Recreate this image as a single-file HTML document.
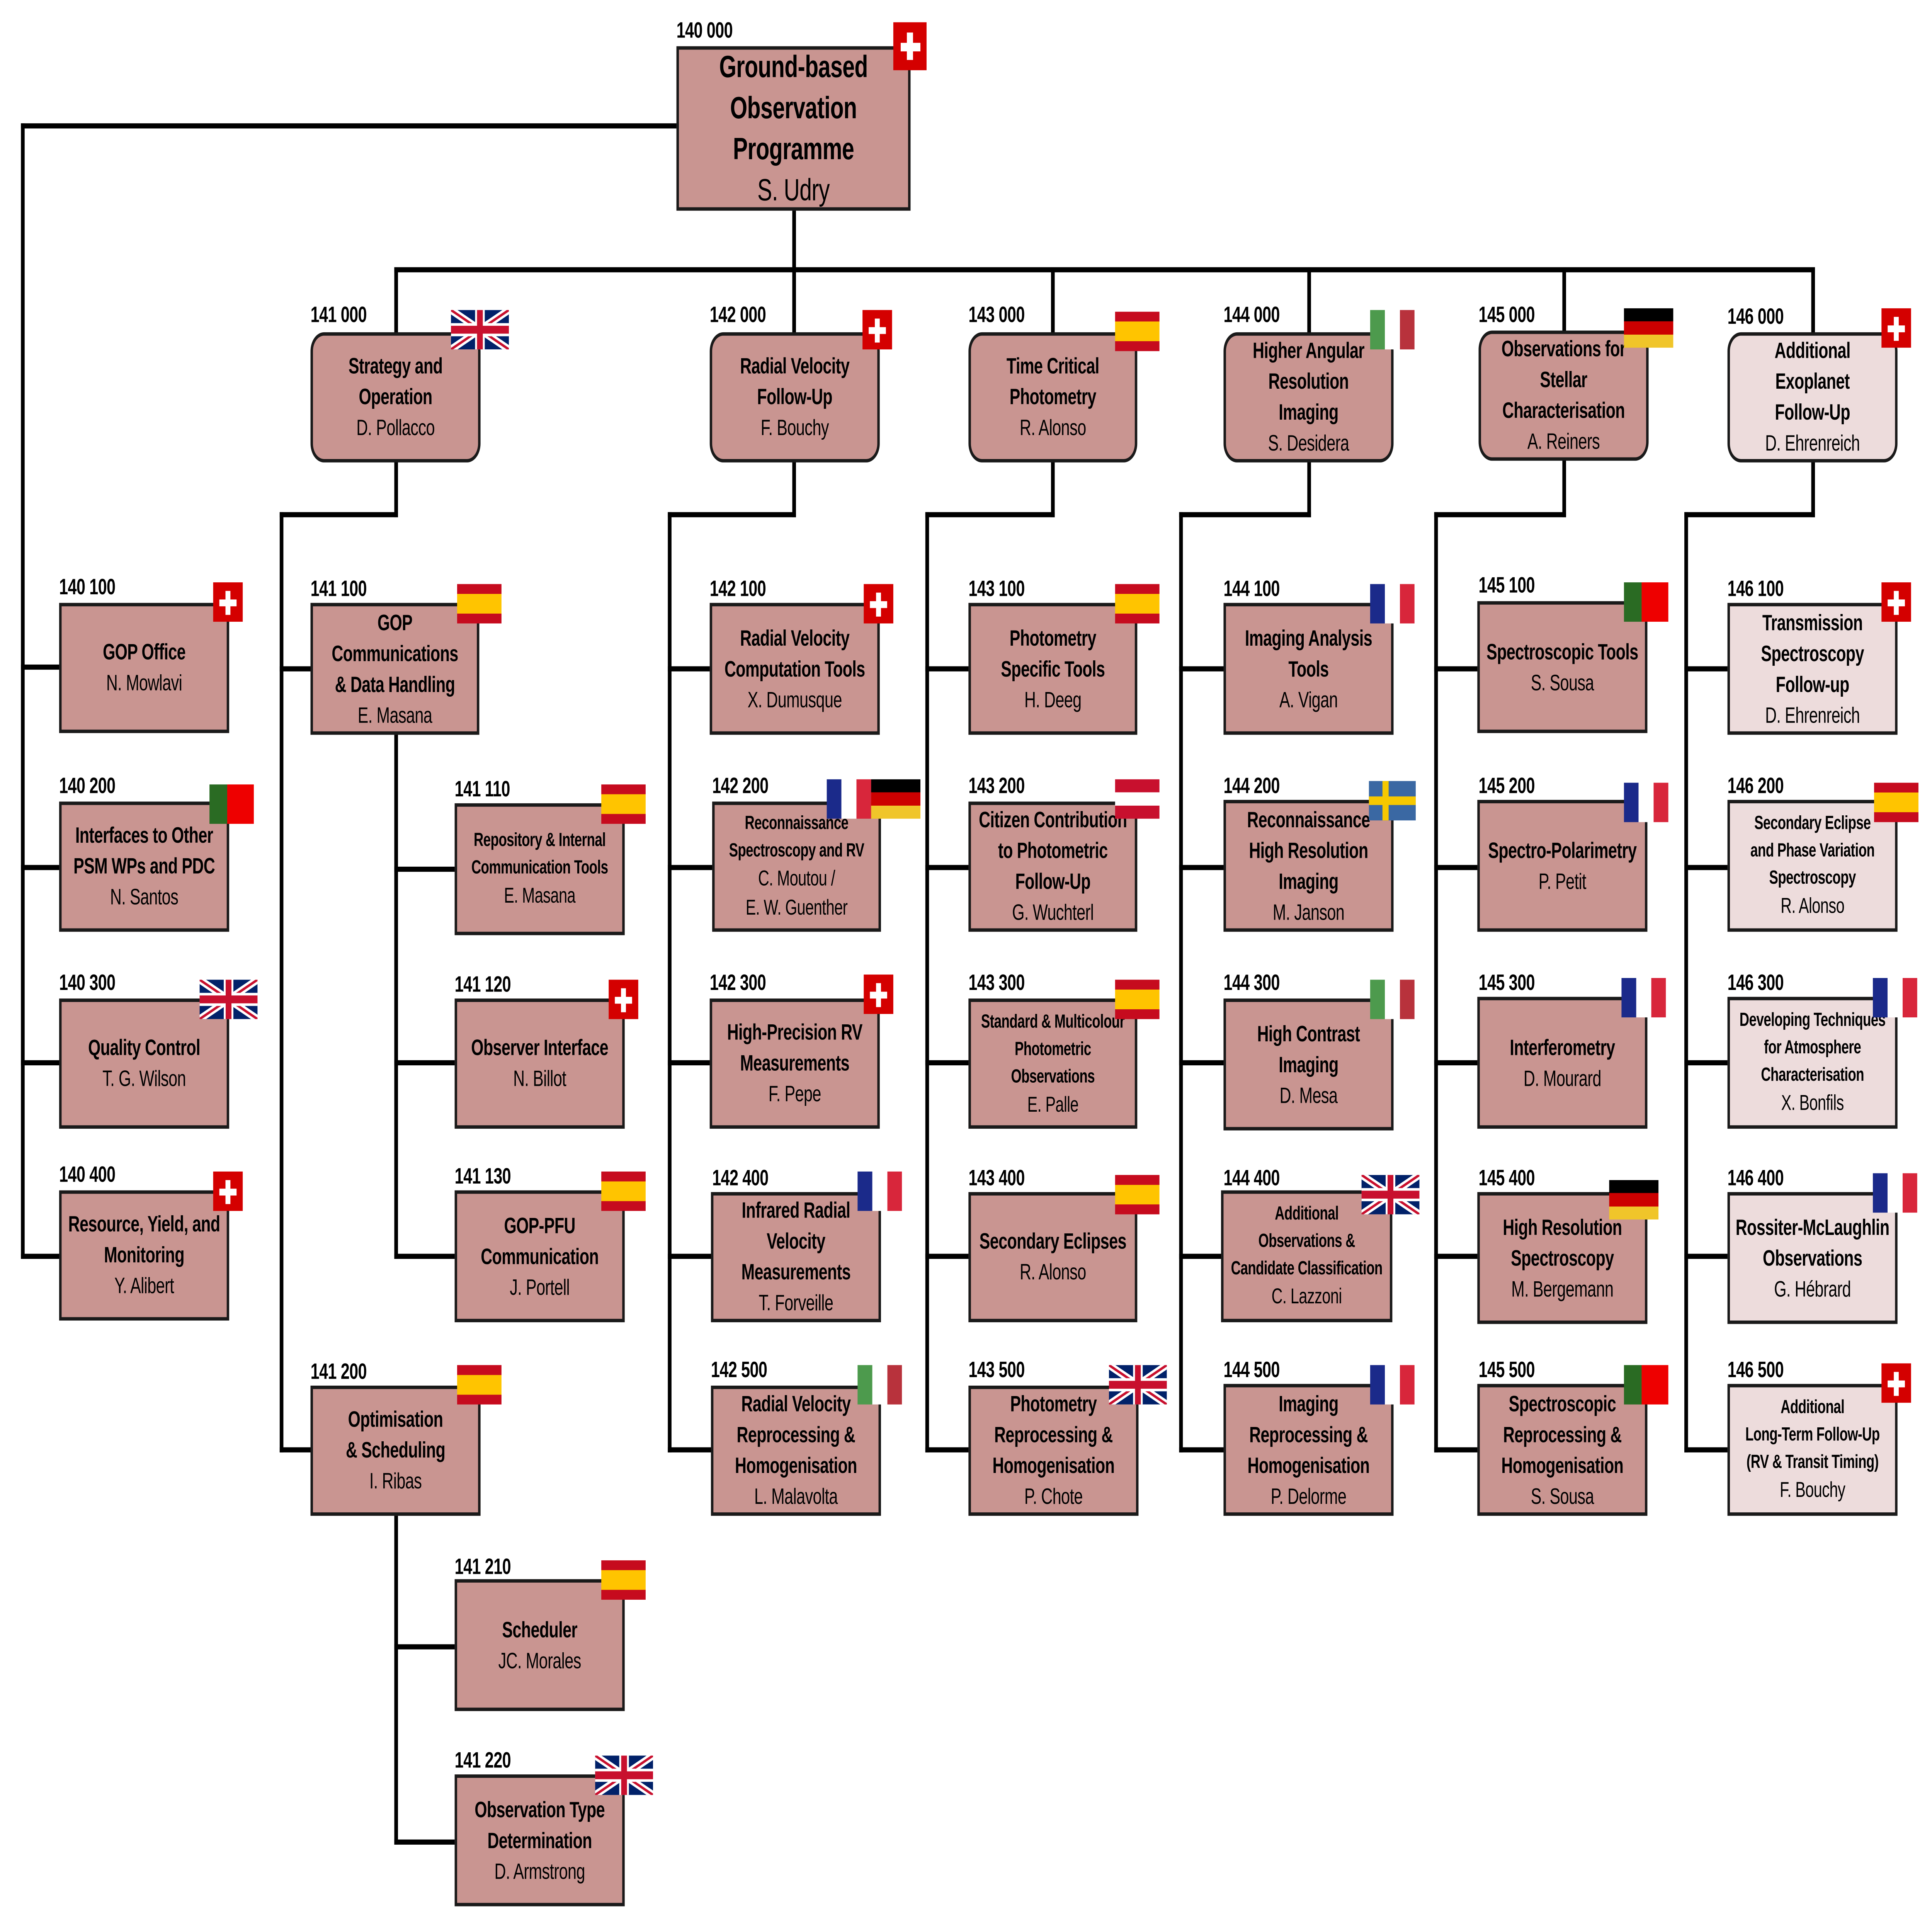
<!DOCTYPE html>
<html><head><meta charset="utf-8">
<style>
html,body{margin:0;padding:0;background:#fff;width:100%;height:100%;overflow:hidden;}
#svg{position:fixed;left:0;top:0;width:100vw;height:100vh;display:block;}
#w{position:relative;width:1568px;height:1128px;font-family:"Liberation Sans Narrow","Liberation Sans",sans-serif;color:#000;letter-spacing:-0.2px;}
.b{position:absolute;box-sizing:border-box;border:2px solid #1a1a1a;background:#c99591;display:flex;align-items:center;justify-content:center;text-align:center;font-size:13px;line-height:18px;}
.r{border-radius:11px;}
.lt{background:#eddcdc;}
.b b{font-weight:bold;}
.s{font-size:11px;line-height:16px;}
.s span{font-size:12.5px;}
.n{position:absolute;font-weight:bold;font-size:13px;line-height:14px;}
.h{position:absolute;height:3px;background:#000;}
.v{position:absolute;width:3px;background:#000;}
.f{position:absolute;width:36px;height:23px;}
.ch{width:24px;height:23px;background:linear-gradient(#fff,#fff) center/14px 4px no-repeat,linear-gradient(#fff,#fff) center/4px 14px no-repeat,#d40000;}
.es{background:linear-gradient(#c60b1e 25%,#ffc400 25% 75%,#c60b1e 75%);}
.it{background:linear-gradient(90deg,#4d9a4d 33%,#fff 33% 67%,#b8323c 67%);}
.fr{background:linear-gradient(90deg,#1b2a8a 33%,#fff 33% 67%,#d8263b 67%);}
.de{width:40px;background:linear-gradient(#000 33%,#c00 33% 67%,#f0c52a 67%);}
.pt{background:linear-gradient(90deg,#2a6b23 40%,#e00 40%);}
.at{background:linear-gradient(#c8102e 33%,#fff 33% 67%,#c8102e 67%);}
.se{width:38px;background:linear-gradient(#f6c800,#f6c800) 0 9px/100% 5px no-repeat,linear-gradient(#f6c800,#f6c800) 11px 0/5px 100% no-repeat,#3a68a3;}
.uk{width:47px;height:23px;}
</style></head><body>
<svg id="svg" viewBox="0 0 1568 1128" preserveAspectRatio="none" xmlns="http://www.w3.org/2000/svg"><foreignObject x="0" y="0" width="1568" height="1128"><div xmlns="http://www.w3.org/1999/xhtml" id="w">

<div class="v" style="left:643px;top:122px;height:37px"></div>
<div class="h" style="left:320px;top:156px;width:1153px"></div>
<div class="h" style="left:17px;top:72px;width:533px"></div>
<div class="v" style="left:17px;top:72px;height:663px"></div>
<div class="v" style="left:320px;top:156px;height:40px"></div>
<div class="v" style="left:643px;top:156px;height:40px"></div>
<div class="v" style="left:853px;top:156px;height:40px"></div>
<div class="v" style="left:1061px;top:156px;height:40px"></div>
<div class="v" style="left:1268px;top:156px;height:38px"></div>
<div class="v" style="left:1470px;top:156px;height:40px"></div>
<div class="h" style="left:17px;top:388px;width:32px"></div>
<div class="h" style="left:17px;top:505px;width:32px"></div>
<div class="h" style="left:17px;top:619px;width:32px"></div>
<div class="h" style="left:17px;top:732px;width:32px"></div>
<div class="v" style="left:320px;top:268px;height:34px"></div>
<div class="h" style="left:227px;top:299px;width:96px"></div>
<div class="v" style="left:227px;top:299px;height:549px"></div>
<div class="h" style="left:227px;top:389px;width:26px"></div>
<div class="h" style="left:227px;top:845px;width:26px"></div>
<div class="v" style="left:320px;top:427px;height:308px"></div>
<div class="h" style="left:320px;top:506px;width:50px"></div>
<div class="h" style="left:320px;top:619px;width:50px"></div>
<div class="h" style="left:320px;top:732px;width:50px"></div>
<div class="v" style="left:320px;top:883px;height:194px"></div>
<div class="h" style="left:320px;top:960px;width:50px"></div>
<div class="h" style="left:320px;top:1074px;width:50px"></div>
<div class="v" style="left:643px;top:268px;height:34px"></div>
<div class="h" style="left:542px;top:299px;width:104px"></div>
<div class="v" style="left:542px;top:299px;height:549px"></div>
<div class="h" style="left:542px;top:389px;width:36px"></div>
<div class="h" style="left:542px;top:505px;width:36px"></div>
<div class="h" style="left:542px;top:619px;width:36px"></div>
<div class="h" style="left:542px;top:732px;width:36px"></div>
<div class="h" style="left:542px;top:845px;width:36px"></div>
<div class="v" style="left:853px;top:268px;height:34px"></div>
<div class="h" style="left:751px;top:299px;width:105px"></div>
<div class="v" style="left:751px;top:299px;height:549px"></div>
<div class="h" style="left:751px;top:389px;width:36px"></div>
<div class="h" style="left:751px;top:505px;width:36px"></div>
<div class="h" style="left:751px;top:619px;width:36px"></div>
<div class="h" style="left:751px;top:732px;width:36px"></div>
<div class="h" style="left:751px;top:845px;width:36px"></div>
<div class="v" style="left:1061px;top:268px;height:34px"></div>
<div class="h" style="left:957px;top:299px;width:107px"></div>
<div class="v" style="left:957px;top:299px;height:549px"></div>
<div class="h" style="left:957px;top:389px;width:37px"></div>
<div class="h" style="left:957px;top:505px;width:37px"></div>
<div class="h" style="left:957px;top:619px;width:37px"></div>
<div class="h" style="left:957px;top:732px;width:37px"></div>
<div class="h" style="left:957px;top:845px;width:37px"></div>
<div class="v" style="left:1268px;top:267px;height:35px"></div>
<div class="h" style="left:1164px;top:299px;width:107px"></div>
<div class="v" style="left:1164px;top:299px;height:549px"></div>
<div class="h" style="left:1164px;top:389px;width:37px"></div>
<div class="h" style="left:1164px;top:505px;width:37px"></div>
<div class="h" style="left:1164px;top:619px;width:37px"></div>
<div class="h" style="left:1164px;top:732px;width:37px"></div>
<div class="h" style="left:1164px;top:845px;width:37px"></div>
<div class="v" style="left:1470px;top:268px;height:34px"></div>
<div class="h" style="left:1367px;top:299px;width:106px"></div>
<div class="v" style="left:1367px;top:299px;height:549px"></div>
<div class="h" style="left:1367px;top:389px;width:36px"></div>
<div class="h" style="left:1367px;top:505px;width:36px"></div>
<div class="h" style="left:1367px;top:619px;width:36px"></div>
<div class="h" style="left:1367px;top:732px;width:36px"></div>
<div class="h" style="left:1367px;top:845px;width:36px"></div>

<div class="n" style="left:549px;top:11px">140 000</div>
<div class="b" style="left:549px;top:27px;width:190px;height:96px;font-size:18px;line-height:24px"><div><b>Ground-based<br/>Observation<br/>Programme</b><br/>S. Udry</div></div>
<div class="f" style="left:725px;top:13px;width:27px;height:28px;background:linear-gradient(#fff,#fff) center/16px 5px no-repeat,linear-gradient(#fff,#fff) center/5px 16px no-repeat,#d40000"></div>

<div class="n" style="left:252px;top:177px">141 000</div>
<div class="b r" style="left:252px;top:194px;width:138px;height:76px"><div><b>Strategy and<br/>Operation</b><br/>D. Pollacco</div></div>
<svg class="f uk" style="left:366px;top:181px" viewBox="0 0 60 30" preserveAspectRatio="none"><rect width="60" height="30" fill="#012169"/><path d="M0,0 60,30M60,0 0,30" stroke="#fff" stroke-width="6"/><path d="M0,0 60,30M60,0 0,30" stroke="#C8102E" stroke-width="2"/><path d="M30,0v30M0,15h60" stroke="#fff" stroke-width="10"/><path d="M30,0v30M0,15h60" stroke="#C8102E" stroke-width="6"/></svg>

<div class="n" style="left:576px;top:177px">142 000</div>
<div class="b r" style="left:576px;top:194px;width:138px;height:76px"><div><b>Radial Velocity<br/>Follow-Up</b><br/>F. Bouchy</div></div>
<div class="f ch" style="left:700px;top:181px"></div>

<div class="n" style="left:786px;top:177px">143 000</div>
<div class="b r" style="left:786px;top:194px;width:137px;height:76px"><div><b>Time Critical<br/>Photometry</b><br/>R. Alonso</div></div>
<div class="f es" style="left:905px;top:182px"></div>

<div class="n" style="left:993px;top:177px">144 000</div>
<div class="b r" style="left:993px;top:194px;width:138px;height:76px"><div><b>Higher Angular<br/>Resolution<br/>Imaging</b><br/>S. Desidera</div></div>
<div class="f it" style="left:1112px;top:181px"></div>

<div class="n" style="left:1200px;top:177px">145 000</div>
<div class="b r" style="left:1200px;top:193px;width:138px;height:76px"><div><b>Observations for<br/>Stellar<br/>Characterisation</b><br/>A. Reiners</div></div>
<div class="f de" style="left:1318px;top:180px"></div>

<div class="n" style="left:1402px;top:178px">146 000</div>
<div class="b r lt" style="left:1402px;top:194px;width:138px;height:76px"><div><b>Additional<br/>Exoplanet<br/>Follow-Up</b><br/>D. Ehrenreich</div></div>
<div class="f ch" style="left:1527px;top:180px"></div>

<div class="n" style="left:48px;top:336px">140 100</div>
<div class="b" style="left:48px;top:352px;width:138px;height:76px"><div><b>GOP Office</b><br/>N. Mowlavi</div></div>
<div class="f ch" style="left:173px;top:340px"></div>
<div class="n" style="left:48px;top:452px">140 200</div>
<div class="b" style="left:48px;top:468px;width:138px;height:76px"><div><b>Interfaces to Other<br/>PSM WPs and PDC</b><br/>N. Santos</div></div>
<div class="f pt" style="left:170px;top:458px"></div>
<div class="n" style="left:48px;top:567px">140 300</div>
<div class="b" style="left:48px;top:583px;width:138px;height:76px"><div><b>Quality Control</b><br/>T. G. Wilson</div></div>
<svg class="f uk" style="left:162px;top:572px" viewBox="0 0 60 30" preserveAspectRatio="none"><rect width="60" height="30" fill="#012169"/><path d="M0,0 60,30M60,0 0,30" stroke="#fff" stroke-width="6"/><path d="M0,0 60,30M60,0 0,30" stroke="#C8102E" stroke-width="2"/><path d="M30,0v30M0,15h60" stroke="#fff" stroke-width="10"/><path d="M30,0v30M0,15h60" stroke="#C8102E" stroke-width="6"/></svg>
<div class="n" style="left:48px;top:679px">140 400</div>
<div class="b" style="left:48px;top:695px;width:138px;height:76px"><div><b>Resource, Yield, and<br/>Monitoring</b><br/>Y. Alibert</div></div>
<div class="f ch" style="left:173px;top:684px"></div>

<div class="n" style="left:252px;top:337px">141 100</div>
<div class="b" style="left:252px;top:352px;width:137px;height:77px"><div><b>GOP<br/>Communications<br/>&amp; Data Handling</b><br/>E. Masana</div></div>
<div class="f es" style="left:371px;top:341px"></div>
<div class="n" style="left:369px;top:454px">141 110</div>
<div class="b s" style="left:369px;top:469px;width:138px;height:77px"><div><b>Repository &amp; Internal<br/>Communication Tools</b><br/><span>E. Masana</span></div></div>
<div class="f es" style="left:488px;top:458px"></div>
<div class="n" style="left:369px;top:568px">141 120</div>
<div class="b" style="left:369px;top:583px;width:138px;height:76px"><div><b>Observer Interface</b><br/>N. Billot</div></div>
<div class="f ch" style="left:494px;top:572px"></div>
<div class="n" style="left:369px;top:680px">141 130</div>
<div class="b" style="left:369px;top:695px;width:138px;height:77px"><div><b>GOP-PFU<br/>Communication</b><br/>J. Portell</div></div>
<div class="f es" style="left:488px;top:684px"></div>
<div class="n" style="left:252px;top:794px">141 200</div>
<div class="b" style="left:252px;top:809px;width:138px;height:76px"><div><b>Optimisation<br/>&amp; Scheduling</b><br/>I. Ribas</div></div>
<div class="f es" style="left:371px;top:797px"></div>
<div class="n" style="left:369px;top:908px">141 210</div>
<div class="b" style="left:369px;top:922px;width:138px;height:77px"><div><b>Scheduler</b><br/>JC. Morales</div></div>
<div class="f es" style="left:488px;top:911px"></div>
<div class="n" style="left:369px;top:1021px">141 220</div>
<div class="b" style="left:369px;top:1036px;width:138px;height:77px"><div><b>Observation Type<br/>Determination</b><br/>D. Armstrong</div></div>
<svg class="f uk" style="left:483px;top:1025px" viewBox="0 0 60 30" preserveAspectRatio="none"><rect width="60" height="30" fill="#012169"/><path d="M0,0 60,30M60,0 0,30" stroke="#fff" stroke-width="6"/><path d="M0,0 60,30M60,0 0,30" stroke="#C8102E" stroke-width="2"/><path d="M30,0v30M0,15h60" stroke="#fff" stroke-width="10"/><path d="M30,0v30M0,15h60" stroke="#C8102E" stroke-width="6"/></svg>

<div class="n" style="left:576px;top:337px">142 100</div>
<div class="b" style="left:576px;top:352px;width:138px;height:77px"><div><b>Radial Velocity<br/>Computation Tools</b><br/>X. Dumusque</div></div>
<div class="f ch" style="left:701px;top:341px"></div>
<div class="n" style="left:578px;top:452px">142 200</div>
<div class="b s" style="left:578px;top:468px;width:137px;height:76px"><div><b>Reconnaissance<br/>Spectroscopy and RV</b><br/><span>C. Moutou /<br/>E. W. Guenther</span></div></div>
<div class="f fr" style="left:671px;top:455px"></div>
<div class="f de" style="left:707px;top:455px"></div>
<div class="n" style="left:576px;top:567px">142 300</div>
<div class="b" style="left:576px;top:583px;width:138px;height:76px"><div><b>High-Precision RV<br/>Measurements</b><br/>F. Pepe</div></div>
<div class="f ch" style="left:701px;top:569px"></div>
<div class="n" style="left:578px;top:681px">142 400</div>
<div class="b" style="left:577px;top:696px;width:138px;height:76px"><div><b>Infrared Radial<br/>Velocity<br/>Measurements</b><br/>T. Forveille</div></div>
<div class="f fr" style="left:696px;top:684px"></div>
<div class="n" style="left:577px;top:793px">142 500</div>
<div class="b" style="left:577px;top:809px;width:138px;height:76px"><div><b>Radial Velocity<br/>Reprocessing &amp;<br/>Homogenisation</b><br/>L. Malavolta</div></div>
<div class="f it" style="left:696px;top:797px"></div>

<div class="n" style="left:786px;top:337px">143 100</div>
<div class="b" style="left:786px;top:352px;width:137px;height:77px"><div><b>Photometry<br/>Specific Tools</b><br/>H. Deeg</div></div>
<div class="f es" style="left:905px;top:341px"></div>
<div class="n" style="left:786px;top:452px">143 200</div>
<div class="b" style="left:786px;top:468px;width:137px;height:76px"><div><b>Citizen Contribution<br/>to Photometric<br/>Follow-Up</b><br/>G. Wuchterl</div></div>
<div class="f at" style="left:905px;top:455px"></div>
<div class="n" style="left:786px;top:567px">143 300</div>
<div class="b s" style="left:786px;top:583px;width:137px;height:76px"><div><b>Standard &amp; Multicolour<br/>Photometric<br/>Observations</b><br/><span>E. Palle</span></div></div>
<div class="f es" style="left:905px;top:572px"></div>
<div class="n" style="left:786px;top:681px">143 400</div>
<div class="b" style="left:786px;top:696px;width:137px;height:76px"><div><b>Secondary Eclipses</b><br/>R. Alonso</div></div>
<div class="f es" style="left:905px;top:686px"></div>
<div class="n" style="left:786px;top:793px">143 500</div>
<div class="b" style="left:786px;top:809px;width:138px;height:76px"><div><b>Photometry<br/>Reprocessing &amp;<br/>Homogenisation</b><br/>P. Chote</div></div>
<svg class="f uk" style="left:900px;top:797px" viewBox="0 0 60 30" preserveAspectRatio="none"><rect width="60" height="30" fill="#012169"/><path d="M0,0 60,30M60,0 0,30" stroke="#fff" stroke-width="6"/><path d="M0,0 60,30M60,0 0,30" stroke="#C8102E" stroke-width="2"/><path d="M30,0v30M0,15h60" stroke="#fff" stroke-width="10"/><path d="M30,0v30M0,15h60" stroke="#C8102E" stroke-width="6"/></svg>

<div class="n" style="left:993px;top:337px">144 100</div>
<div class="b" style="left:993px;top:352px;width:138px;height:77px"><div><b>Imaging Analysis<br/>Tools</b><br/>A. Vigan</div></div>
<div class="f fr" style="left:1112px;top:341px"></div>
<div class="n" style="left:993px;top:452px">144 200</div>
<div class="b" style="left:993px;top:467px;width:138px;height:77px"><div><b>Reconnaissance<br/>High Resolution<br/>Imaging</b><br/>M. Janson</div></div>
<div class="f se" style="left:1111px;top:456px"></div>
<div class="n" style="left:993px;top:567px">144 300</div>
<div class="b" style="left:993px;top:583px;width:138px;height:77px"><div><b>High Contrast<br/>Imaging</b><br/>D. Mesa</div></div>
<div class="f it" style="left:1112px;top:572px"></div>
<div class="n" style="left:993px;top:681px">144 400</div>
<div class="b s" style="left:991px;top:695px;width:139px;height:77px"><div><b>Additional<br/>Observations &amp;<br/>Candidate Classification</b><br/><span>C. Lazzoni</span></div></div>
<svg class="f uk" style="left:1105px;top:686px" viewBox="0 0 60 30" preserveAspectRatio="none"><rect width="60" height="30" fill="#012169"/><path d="M0,0 60,30M60,0 0,30" stroke="#fff" stroke-width="6"/><path d="M0,0 60,30M60,0 0,30" stroke="#C8102E" stroke-width="2"/><path d="M30,0v30M0,15h60" stroke="#fff" stroke-width="10"/><path d="M30,0v30M0,15h60" stroke="#C8102E" stroke-width="6"/></svg>
<div class="n" style="left:993px;top:793px">144 500</div>
<div class="b" style="left:993px;top:808px;width:138px;height:77px"><div><b>Imaging<br/>Reprocessing &amp;<br/>Homogenisation</b><br/>P. Delorme</div></div>
<div class="f fr" style="left:1112px;top:797px"></div>

<div class="n" style="left:1200px;top:335px">145 100</div>
<div class="b" style="left:1199px;top:351px;width:138px;height:77px"><div><b>Spectroscopic Tools</b><br/>S. Sousa</div></div>
<div class="f pt" style="left:1318px;top:340px"></div>
<div class="n" style="left:1200px;top:452px">145 200</div>
<div class="b" style="left:1199px;top:467px;width:138px;height:77px"><div><b>Spectro-Polarimetry</b><br/>P. Petit</div></div>
<div class="f fr" style="left:1318px;top:457px"></div>
<div class="n" style="left:1200px;top:567px">145 300</div>
<div class="b" style="left:1199px;top:582px;width:138px;height:77px"><div><b>Interferometry</b><br/>D. Mourard</div></div>
<div class="f fr" style="left:1316px;top:571px"></div>
<div class="n" style="left:1200px;top:681px">145 400</div>
<div class="b" style="left:1199px;top:696px;width:138px;height:77px"><div><b>High Resolution<br/>Spectroscopy</b><br/>M. Bergemann</div></div>
<div class="f de" style="left:1306px;top:689px"></div>
<div class="n" style="left:1200px;top:793px">145 500</div>
<div class="b" style="left:1199px;top:808px;width:138px;height:77px"><div><b>Spectroscopic<br/>Reprocessing &amp;<br/>Homogenisation</b><br/>S. Sousa</div></div>
<div class="f pt" style="left:1318px;top:797px"></div>

<div class="n" style="left:1402px;top:337px">146 100</div>
<div class="b lt" style="left:1402px;top:352px;width:138px;height:77px"><div><b>Transmission<br/>Spectroscopy<br/>Follow-up</b><br/>D. Ehrenreich</div></div>
<div class="f ch" style="left:1527px;top:340px"></div>
<div class="n" style="left:1402px;top:452px">146 200</div>
<div class="b s lt" style="left:1402px;top:467px;width:138px;height:77px"><div><b>Secondary Eclipse<br/>and Phase Variation<br/>Spectroscopy</b><br/><span>R. Alonso</span></div></div>
<div class="f es" style="left:1521px;top:457px"></div>
<div class="n" style="left:1402px;top:567px">146 300</div>
<div class="b s lt" style="left:1402px;top:582px;width:138px;height:77px"><div><b>Developing Techniques<br/>for Atmosphere<br/>Characterisation</b><br/><span>X. Bonfils</span></div></div>
<div class="f fr" style="left:1520px;top:571px"></div>
<div class="n" style="left:1402px;top:681px">146 400</div>
<div class="b lt" style="left:1402px;top:696px;width:138px;height:77px"><div><b>Rossiter-McLaughlin<br/>Observations</b><br/>G. Hébrard</div></div>
<div class="f fr" style="left:1520px;top:685px"></div>
<div class="n" style="left:1402px;top:793px">146 500</div>
<div class="b s lt" style="left:1402px;top:808px;width:138px;height:77px"><div><b>Additional<br/>Long-Term Follow-Up<br/>(RV &amp; Transit Timing)</b><br/><span>F. Bouchy</span></div></div>
<div class="f ch" style="left:1527px;top:796px"></div>

</div></foreignObject></svg>
</body></html>
